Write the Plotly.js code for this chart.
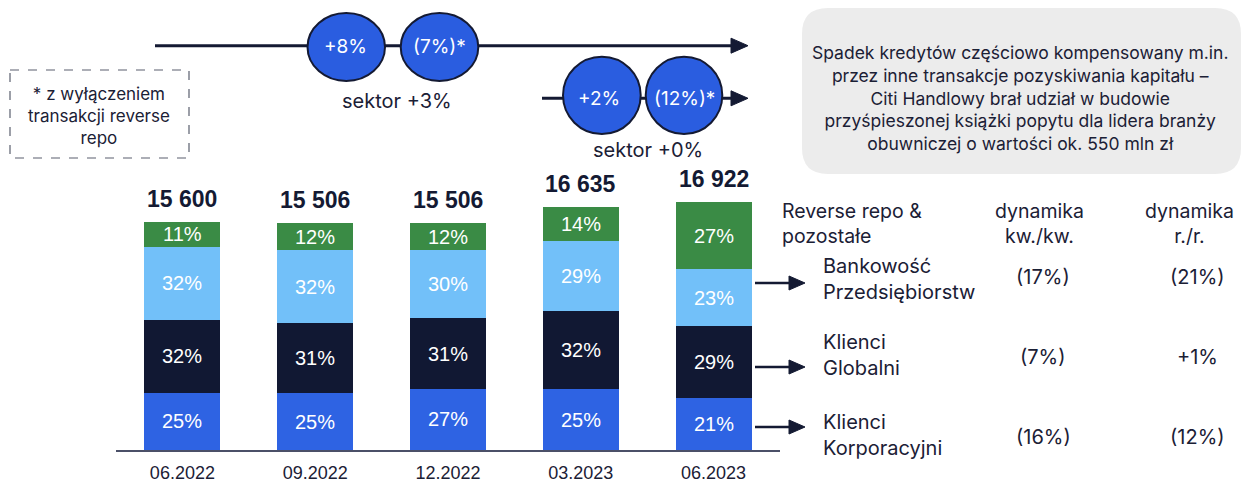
<!DOCTYPE html>
<html><head><meta charset="utf-8">
<script src="https://cdn.plot.ly/plotly-3.0.1.min.js"></script>
<style>html,body{margin:0;padding:0;background:#fff;} #chart{width:1243px;height:485px;}</style>
</head><body><div id="chart"></div>
<script>
// ---- data ----
const periods = ['06.2022', '09.2022', '12.2022', '03.2023', '06.2023'];
const totals = [15600, 15506, 15506, 16635, 16922];
const totalLabels = ['15 600', '15 506', '15 506', '16 635', '16 922'];
const pctKorporacyjni = [25, 25, 27, 25, 21];
const pctGlobalni = [32, 31, 31, 32, 29];
const pctBankowosc = [32, 32, 30, 29, 23];
const pctReverseRepo = [11, 12, 12, 14, 27];
const rowNames = ['Bankowość<br>Przedsiębiorstw', 'Klienci<br>Globalni', 'Klienci<br>Korporacyjni'];
const dynQoQ = ['(17%)', '(7%)', '(16%)'];
const dynYoY = ['(21%)', '+1%', '(12%)'];
const bubbleTop = ['+8%', '(7%)*'];
const bubbleBottom = ['+2%', '(12%)*'];
const sectorTop = 'sektor +3%';
const sectorBottom = 'sektor +0%';
const footnote = '* z wyłączeniem<br>transakcji reverse<br>repo';
const boxText = 'Spadek kredytów częściowo kompensowany m.in.<br>przez inne transakcje pozyskiwania kapitału –<br>Citi Handlowy brał udział w budowie<br>przyśpieszonej książki popytu dla lidera branży<br>obuwniczej o wartości ok. 550 mln zł';
const headerLeft = 'Reverse repo &<br>pozostałe';
const headerQoQ = 'dynamika<br>kw./kw.';
const headerYoY = 'dynamika<br>r./r.';

// ---- styling / geometry ----
const W = 1243, H = 485;
const M = {l: 116, r: 463, t: 0, b: 35};
const PW = W - M.l - M.r, PH = H - M.t - M.b;
const fx = px => (px - M.l) / PW;
const fy = py => (H - M.b - py) / PH;
const navy = '#141a33';
const textCol = '#1b2035';
const sansA = 'Liberation Sans, Arial, sans-serif';
const sansB = 'Inter, Noto Sans, sans-serif';

const segs = [
  {name: 'Klienci Korporacyjni', pct: pctKorporacyjni, color: '#2e63e3'},
  {name: 'Klienci Globalni', pct: pctGlobalni, color: '#111833'},
  {name: 'Bankowość Przedsiębiorstw', pct: pctBankowosc, color: '#72c0f9'},
  {name: 'Reverse repo & pozostałe', pct: pctReverseRepo, color: '#3a8b45'}
];

const traces = [];
const annotations = [];
const base = totals.map(() => 0);
segs.forEach(s => {
  const vals = totals.map((t, i) => t * s.pct[i] / 100);
  traces.push({
    type: 'bar', x: periods, y: vals, name: s.name,
    marker: {color: s.color, line: {width: 0}},
    hoverinfo: 'skip', showlegend: false
  });
  vals.forEach((v, i) => {
    annotations.push({
      x: i, y: base[i] + v / 2, xref: 'x', yref: 'y',
      text: s.pct[i] + '%', showarrow: false,
      font: {family: sansA, size: 20, color: '#ffffff'}
    });
    base[i] += v;
  });
});
totals.forEach((t, i) => {
  annotations.push({
    x: i, y: t, xref: 'x', yref: 'y', yshift: 23,
    text: '<b>' + totalLabels[i] + '</b>', showarrow: false,
    font: {family: sansA, size: 23, color: navy}
  });
});

function txt(px, py, text, size, opts) {
  return Object.assign({
    xref: 'paper', yref: 'paper', x: fx(px), y: fy(py), text: text,
    showarrow: false, xanchor: 'center', yanchor: 'middle',
    font: {family: sansB, size: size, color: textCol}
  }, opts || {});
}

// top graphic texts
annotations.push(txt(345.5, 46, bubbleTop[0], 19, {font: {family: sansB, size: 19, color: '#fff'}}));
annotations.push(txt(439, 46, bubbleTop[1], 19, {font: {family: sansB, size: 19, color: '#fff'}}));
annotations.push(txt(598.5, 99, bubbleBottom[0], 19, {font: {family: sansB, size: 19, color: '#fff'}}));
annotations.push(txt(684, 99, bubbleBottom[1], 19, {font: {family: sansB, size: 19, color: '#fff'}}));
annotations.push(txt(397, 101, sectorTop, 20));
annotations.push(txt(648, 150, sectorBottom, 20));
annotations.push(txt(99, 116, footnote, 17));
annotations.push(txt(1020, 98, boxText, 17.5));

// table
annotations.push(txt(780, 223, headerLeft, 19.5, {xanchor: 'left', align: 'left'}));
annotations.push(txt(1039, 223, headerQoQ, 19.5));
annotations.push(txt(1189, 223, headerYoY, 19.5));
const rowTextY = [279, 355, 435];
const rowValY = [277, 357, 437];
const rowArrowY = [283, 367, 427];
rowNames.forEach((n, i) => {
  annotations.push(txt(821, rowTextY[i], n, 20, {xanchor: 'left', align: 'left'}));
  annotations.push(txt(1043, rowValY[i], dynQoQ[i], 20));
  annotations.push(txt(1197, rowValY[i], dynYoY[i], 20));
});

// shapes
const shapes = [];
function line(x0, y0, x1, y1, w, color, dash) {
  shapes.push({type: 'line', xref: 'paper', yref: 'paper', x0: fx(x0), y0: fy(y0), x1: fx(x1), y1: fy(y1),
    line: {color: color || navy, width: w, dash: dash || 'solid'}});
}
function tri(xb, xt, y, h) {
  shapes.push({type: 'path', xref: 'paper', yref: 'paper',
    path: `M ${fx(xb)},${fy(y - h)} L ${fx(xt)},${fy(y)} L ${fx(xb)},${fy(y + h)} Z`,
    fillcolor: navy, line: {color: navy, width: 1}});
}
function ell(x0, y0, x1, y1) {
  shapes.push({type: 'circle', xref: 'paper', yref: 'paper', x0: fx(x0), y0: fy(y0), x1: fx(x1), y1: fy(y1),
    fillcolor: '#2a5de0', line: {color: navy, width: 2}});
}
function rrect(x0, y0, x1, y1, r, fill) {
  const p = `M ${fx(x0 + r)},${fy(y0)} L ${fx(x1 - r)},${fy(y0)} Q ${fx(x1)},${fy(y0)} ${fx(x1)},${fy(y0 + r)} ` +
    `L ${fx(x1)},${fy(y1 - r)} Q ${fx(x1)},${fy(y1)} ${fx(x1 - r)},${fy(y1)} L ${fx(x0 + r)},${fy(y1)} ` +
    `Q ${fx(x0)},${fy(y1)} ${fx(x0)},${fy(y1 - r)} L ${fx(x0)},${fy(y0 + r)} Q ${fx(x0)},${fy(y0)} ${fx(x0 + r)},${fy(y0)} Z`;
  shapes.push({type: 'path', xref: 'paper', yref: 'paper', path: p, fillcolor: fill, line: {width: 0}, layer: 'below'});
}
rrect(802, 8, 1241, 174, 26, '#ececec');
shapes.push({type: 'rect', xref: 'paper', yref: 'paper', x0: fx(10), y0: fy(70), x1: fx(189), y1: fy(158),
  line: {color: '#5a5f6e', width: 1.2, dash: 'dash'}, fillcolor: 'rgba(0,0,0,0)'});
line(155, 45.7, 733, 45.7, 3);
tri(731, 748, 45.7, 7.5);
line(542, 98.3, 733, 98.3, 3);
tri(731, 748, 98.3, 7.5);
ell(307.5, 13, 385, 81);
ell(400.7, 13, 478.3, 81);
ell(563, 56.7, 640.7, 134);
ell(645.7, 56.7, 722.3, 134);
rowArrowY.forEach(y => { line(755, y, 791, y, 2.5); tri(789, 805, y, 7); });

const layout = {
  width: W, height: H, margin: M,
  paper_bgcolor: '#ffffff', plot_bgcolor: '#ffffff',
  barmode: 'stack', bargap: 0.427,
  xaxis: {type: 'category', range: [-0.5, 4.5], showline: true, linecolor: '#4b5068', linewidth: 1.5,
    showgrid: false, zeroline: false, ticks: '', automargin: false, ticklabelstandoff: 6,
    tickfont: {family: sansA, size: 18, color: textCol}, fixedrange: true},
  yaxis: {range: [0, 30742], visible: false, showgrid: false, zeroline: false, automargin: false, fixedrange: true},
  showlegend: false,
  annotations: annotations,
  shapes: shapes
};
Plotly.newPlot('chart', traces, layout, {displayModeBar: false, staticPlot: true});
</script>
</body></html>
